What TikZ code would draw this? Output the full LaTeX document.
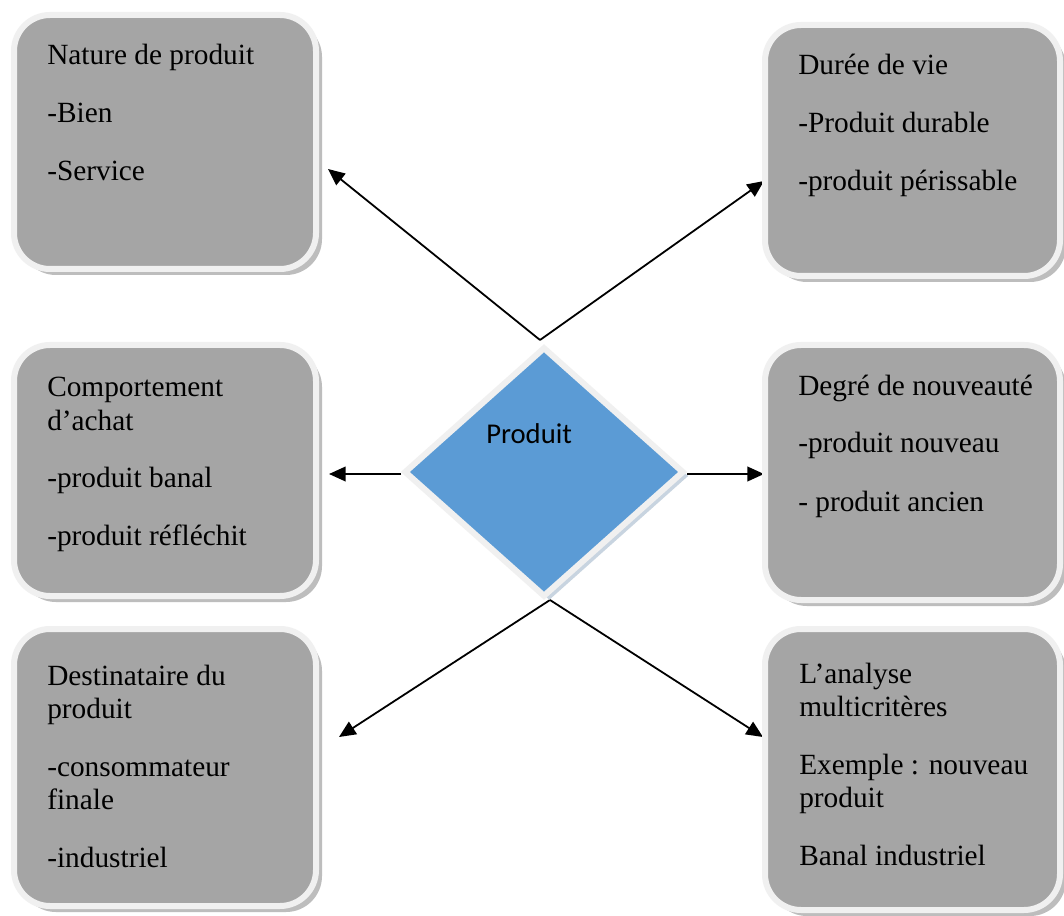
\documentclass[tikz,border=0pt]{standalone}
\usepackage{fontspec}
\setmainfont{Liberation Serif}
\newfontfamily\labelsans{Carlito}
\usetikzlibrary{arrows.meta,shapes.geometric,shadows,backgrounds}

\definecolor{cardfill}{HTML}{A5A5A5}
\definecolor{cardrim}{HTML}{F0F0F0}
\definecolor{cardshade}{HTML}{BDBDBD}
\definecolor{prodfill}{HTML}{5B9BD5}
\definecolor{prodshade}{HTML}{C8D4E0}

\tikzset{
  card/.style={draw=cardrim, line width=4.5pt, fill=cardfill, rounded corners=27pt,
    inner sep=0pt,
    drop shadow={shadow xshift=4.5pt, shadow yshift=-4.5pt, fill=cardshade, opacity=1}},
  cardtext/.style={anchor=base west, inner sep=0pt, font=\fontsize{22}{24.75}\selectfont},
  prodshape/.style={diamond, draw=cardrim, line width=4.5pt, fill=prodfill, inner sep=0pt,
    minimum width=210pt, minimum height=187.5pt,
    drop shadow={shadow xshift=4pt, shadow yshift=-3pt, fill=prodshade, opacity=1}},
  link/.style={line width=1.35pt, -{Triangle[length=12.5pt,width=11pt]}},
}

\begin{document}
\begin{tikzpicture}[x=0.75pt, y=-0.75pt]
  \useasboundingbox (0,0) rectangle (1064,916);

  % the six category cards
  \node[card, minimum width=226.5pt,  minimum height=190.5pt]  (nature)  at (165,142)   {};
  \node[card, minimum width=221.25pt, minimum height=188.25pt] (duree)   at (912.5,150.5) {};
  \node[card, minimum width=226.5pt,  minimum height=188.25pt] (comport) at (165,470.5) {};
  \node[card, minimum width=221.25pt, minimum height=191.25pt] (degre)   at (912.5,472.5) {};
  \node[card, minimum width=226.5pt,  minimum height=207.75pt] (destin)  at (165,767.5) {};
  \node[card, minimum width=221.25pt, minimum height=210.75pt] (analyse) at (912.5,769.5) {};

  % card texts
  \node[cardtext] (natureT) at (47,65) {\begin{tabular}[t]{@{}l@{}}
    Nature de produit\\[18.75pt] -Bien\\[18.75pt] -Service\end{tabular}};
  \node[cardtext] (dureeT) at (798,75) {\begin{tabular}[t]{@{}l@{}}
    Durée de vie\\[18.75pt] -Produit durable\\[18.75pt] -produit périssable\end{tabular}};
  \node[cardtext] (comportT) at (47,397) {\begin{tabular}[t]{@{}l@{}}
    Comportement\\ d’achat\\[18.75pt] -produit banal\\[18.75pt] -produit réfléchit\end{tabular}};
  \node[cardtext] (degreT) at (798,395) {\begin{tabular}[t]{@{}l@{}}
    Degré de nouveauté\\[18.75pt] -produit nouveau\\[18.75pt] - produit ancien\end{tabular}};
  \node[cardtext] (destinT) at (47,685) {\begin{tabular}[t]{@{}l@{}}
    Destinataire du\\ produit\\[18.75pt] -consommateur\\ finale\\[18.75pt] -industriel\end{tabular}};
  \node[cardtext] (analyseT) at (799,683) {\begin{tabular}[t]{@{}l@{}}
    L’analyse\\ multicritères\\[18.75pt] Exemple : nouveau\\ produit\\[18.75pt] Banal industriel\end{tabular}};

  % central diamond
  \node[prodshape] (prod) at (544,472) {};
  \node[anchor=base west, inner sep=0pt, font=\labelsans\fontsize{21.5}{26}\selectfont]
    (prodT) at (486,443) {Produit};

  % arrow tips
  \coordinate (tipNature)  at (328,169);
  \coordinate (tipDuree)   at (764,181);
  \coordinate (tipComport) at (329,474);
  \coordinate (tipDegre)   at (764,474);
  \coordinate (tipDestin)  at (339,737);
  \coordinate (tipAnalyse) at (763,737);

  % white page and the connectors, behind the shapes
  \begin{scope}[on background layer]
    \fill[white] (0,0) rectangle (1064,916);
    \draw[link] ([xshift=-3pt,yshift=3pt]prod.north) -- (tipNature);
    \draw[link] ([xshift=-3pt,yshift=3pt]prod.north) -- (tipDuree);
    \draw[link] ([yshift=-1.5pt]prod.west) -- (tipComport);
    \draw[link] ([yshift=-1.5pt]prod.east) -- (tipDegre);
    \draw[link] ([xshift=4.5pt]prod.south) -- (tipDestin);
    \draw[link] ([xshift=4.5pt]prod.south) -- (tipAnalyse);
  \end{scope}
\end{tikzpicture}
\end{document}
